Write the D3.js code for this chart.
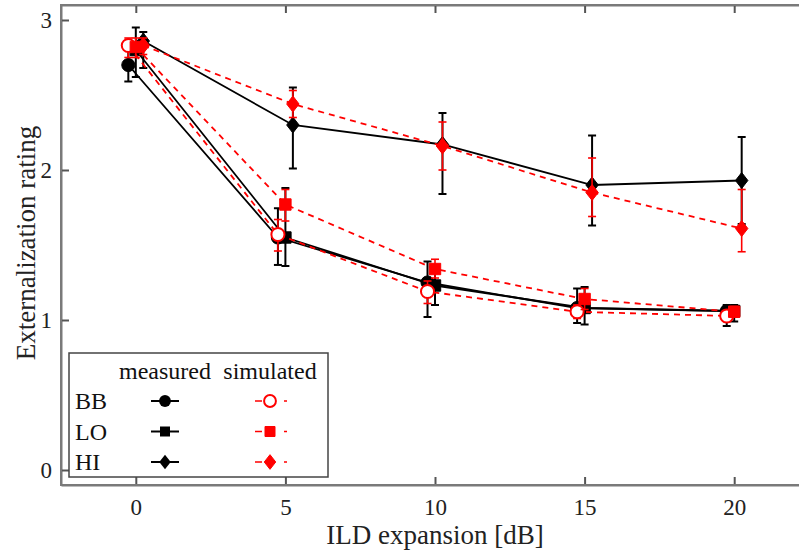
<!DOCTYPE html>
<html>
<head>
<meta charset="utf-8">
<script src="https://cdn.jsdelivr.net/npm/d3@7"></script>
<style>
  html, body { margin: 0; padding: 0; background: #fff; }
  svg { display: block; font-family: "Liberation Serif", "Times New Roman", serif; }
</style>
</head>
<body>
<svg id="chart" width="799" height="554"></svg>
<script>
// ILD expansion levels (dB)
const ildLevels = [0, 5, 10, 15, 20];
const xTicks = [0, 5, 10, 15, 20];
const yTicks = [0, 1, 2, 3];
const conditions = ["BB", "LO", "HI"];

// Measured externalization ratings (mean, upper and lower error-bar ends)
const measuredBB = [2.70, 1.55, 1.25, 1.08, 1.06];
const measuredBBHigh = [2.81, 1.745, 1.39, 1.21, 1.10];
const measuredBBLow = [2.59, 1.367, 1.02, 0.98, 0.96];

const measuredLO = [2.80, 1.55, 1.23, 1.08, 1.06];
const measuredLOHigh = [2.95, 1.88, 1.36, 1.22, 1.10];
const measuredLOLow = [2.62, 1.36, 1.10, 0.97, 0.99];

const measuredHI = [2.86, 2.30, 2.17, 1.90, 1.93];
const measuredHIHigh = [2.92, 2.55, 2.38, 2.23, 2.22];
const measuredHILow = [2.68, 2.01, 1.84, 1.63, 1.64];

// Simulated externalization ratings
const simulatedBB = [2.83, 1.57, 1.19, 1.055, 1.027];
const simulatedBBHigh = [2.88, 1.67, 1.26, 1.10, 1.06];
const simulatedBBLow = [2.75, 1.46, 1.11, 1.01, 0.99];

const simulatedLO = [2.82, 1.77, 1.34, 1.14, 1.055];
const simulatedLOHigh = [2.88, 1.87, 1.405, 1.21, 1.09];
const simulatedLOLow = [2.75, 1.66, 1.28, 1.07, 1.02];

const simulatedHI = [2.83, 2.44, 2.16, 1.85, 1.61];
const simulatedHIHigh = [2.88, 2.53, 2.32, 2.08, 1.87];
const simulatedHILow = [2.77, 2.35, 2.00, 1.69, 1.455];

const legendHeader = ["measured", "simulated"];

// ---- assemble series ----
const measured = {
  BB: { mean: measuredBB, hi: measuredBBHigh, lo: measuredBBLow },
  LO: { mean: measuredLO, hi: measuredLOHigh, lo: measuredLOLow },
  HI: { mean: measuredHI, hi: measuredHIHigh, lo: measuredHILow }
};
const simulated = {
  BB: { mean: simulatedBB, hi: simulatedBBHigh, lo: simulatedBBLow },
  LO: { mean: simulatedLO, hi: simulatedLOHigh, lo: simulatedLOLow },
  HI: { mean: simulatedHI, hi: simulatedHIHigh, lo: simulatedHILow }
};
// small horizontal dodge (dB) so the three conditions do not overlap
const dodge = { BB: -0.25, LO: 0, HI: 0.25 };

const svg = d3.select("#chart");
const plot = { left: 61, top: 5, bottom: 485, right: 809 };

const x = d3.scaleLinear().domain([-2.5, 22.5]).range([plot.left, plot.right]);
const y = d3.scaleLinear().domain([-0.1, 3.1]).range([plot.bottom, plot.top]);

// marker shapes
const diamond = {
  draw(ctx, size) {
    const h = Math.sqrt(size) * 0.62, w = h * 0.78;
    ctx.moveTo(0, -h); ctx.lineTo(w, 0); ctx.lineTo(0, h); ctx.lineTo(-w, 0); ctx.closePath();
  }
};
const shapes = { BB: d3.symbolCircle, LO: d3.symbolSquare, HI: diamond };
const sizes = { BB: 135, LO: 130, HI: 165 };
const legendSizes = { BB: 110, LO: 100, HI: 140 };

// ---- axes frame ----
const frameColor = "#7a7a7a";
function styleAxis(g) {
  g.select(".domain").attr("stroke", frameColor).attr("stroke-width", 2);
  g.selectAll(".tick line").attr("stroke", "#555").attr("stroke-width", 2);
  g.selectAll(".tick text").attr("fill", "#222").style("font-size", "23px")
    .style("font-family", "'Liberation Serif', serif");
}
svg.append("g").attr("transform", `translate(0,${plot.bottom})`)
  .call(d3.axisBottom(x).tickValues(xTicks).tickSize(-8).tickSizeOuter(0).tickPadding(14).tickFormat(d3.format("d")))
  .call(styleAxis);
svg.append("g").attr("transform", `translate(0,${plot.top})`)
  .call(d3.axisTop(x).tickValues(xTicks).tickSize(-8).tickSizeOuter(0).tickFormat(""))
  .call(styleAxis);
svg.append("g").attr("transform", `translate(${plot.left},0)`)
  .call(d3.axisLeft(y).tickValues(yTicks).tickSize(-8).tickSizeOuter(0).tickPadding(9).tickFormat(d3.format("d")))
  .call(styleAxis);
svg.append("g").attr("transform", `translate(${plot.right},0)`)
  .call(d3.axisRight(y).tickValues(yTicks).tickSize(-8).tickSizeOuter(0).tickFormat(""))
  .call(styleAxis);
// join the corners of the frame
svg.append("rect").attr("x", plot.left).attr("y", plot.top)
  .attr("width", plot.right - plot.left).attr("height", plot.bottom - plot.top)
  .attr("fill", "none").attr("stroke", frameColor).attr("stroke-width", 2);

// ---- axis titles ----
svg.append("text").attr("x", x(10)).attr("y", 544).attr("text-anchor", "middle")
  .style("font-size", "27px").attr("fill", "#222").text("ILD expansion [dB]");
svg.append("text").attr("transform", "translate(35,243) rotate(-90)").attr("text-anchor", "middle")
  .style("font-size", "27px").attr("fill", "#222").text("Externalization rating");

// ---- data layers ----
function drawSet(set, opts) {
  const g = svg.append("g");
  conditions.forEach(c => {
    const s = set[c];
    const pts = ildLevels.map((l, i) => ({ x: l + dodge[c], m: s.mean[i], hi: s.hi[i], lo: s.lo[i] }));
    g.append("path").datum(pts)
      .attr("d", d3.line().x(d => x(d.x)).y(d => y(d.m)))
      .attr("fill", "none").attr("stroke", opts.color).attr("stroke-width", 1.8)
      .attr("stroke-dasharray", opts.dash);
  });
  conditions.forEach(c => {
    const s = set[c];
    const pts = ildLevels.map((l, i) => ({ x: l + dodge[c], m: s.mean[i], hi: s.hi[i], lo: s.lo[i] }));
    const eb = g.append("g").attr("stroke", opts.color).attr("stroke-width", opts.ebWidth);
    pts.forEach(d => {
      const px = x(d.x);
      eb.append("line").attr("x1", px).attr("x2", px).attr("y1", y(d.lo)).attr("y2", y(d.hi));
      eb.append("line").attr("x1", px - 4).attr("x2", px + 4).attr("y1", y(d.lo)).attr("y2", y(d.lo));
      eb.append("line").attr("x1", px - 4).attr("x2", px + 4).attr("y1", y(d.hi)).attr("y2", y(d.hi));
    });
    g.selectAll(null).data(pts).enter().append("path")
      .attr("transform", d => `translate(${x(d.x)},${y(d.m)})`)
      .attr("d", d3.symbol().type(shapes[c]).size(sizes[c]))
      .attr("fill", opts.open && c === "BB" ? "#fff" : opts.color)
      .attr("stroke", opts.color).attr("stroke-width", opts.open && c === "BB" ? 2 : 1);
  });
}
drawSet(measured, { color: "#000", dash: null, ebWidth: 2, open: false });
drawSet(simulated, { color: "#ff0000", dash: "6,5", ebWidth: 1.6, open: true });

// ---- legend ----
const lg = svg.append("g");
lg.append("rect").attr("x", 69).attr("y", 353).attr("width", 259).attr("height", 124)
  .attr("fill", "#fff").attr("stroke", "#444").attr("stroke-width", 1.5);
const colX = [165, 270];
legendHeader.forEach((t, i) => {
  lg.append("text").attr("x", colX[i]).attr("y", 379).attr("text-anchor", "middle")
    .style("font-size", "24px").attr("fill", "#111").text(t);
});
conditions.forEach((c, r) => {
  const cy = 401 + r * 30.5;
  lg.append("text").attr("x", 75).attr("y", cy + 8).style("font-size", "24px").attr("fill", "#111").text(c);
  // measured sample
  lg.append("line").attr("x1", colX[0] - 14).attr("x2", colX[0] + 14).attr("y1", cy).attr("y2", cy)
    .attr("stroke", "#000").attr("stroke-width", 2);
  lg.append("path").attr("transform", `translate(${colX[0]},${cy})`)
    .attr("d", d3.symbol().type(shapes[c]).size(legendSizes[c])).attr("fill", "#000");
  // simulated sample
  lg.append("line").attr("x1", colX[1] - 15).attr("x2", colX[1] + 17).attr("y1", cy).attr("y2", cy)
    .attr("stroke", "#ff0000").attr("stroke-width", 1.6).attr("stroke-dasharray", "7,22,3");
  lg.append("path").attr("transform", `translate(${colX[1]},${cy})`)
    .attr("d", d3.symbol().type(shapes[c]).size(legendSizes[c]))
    .attr("fill", c === "BB" ? "#fff" : "#ff0000").attr("stroke", "#ff0000")
    .attr("stroke-width", c === "BB" ? 2 : 1);
});
</script>
</body>
</html>
